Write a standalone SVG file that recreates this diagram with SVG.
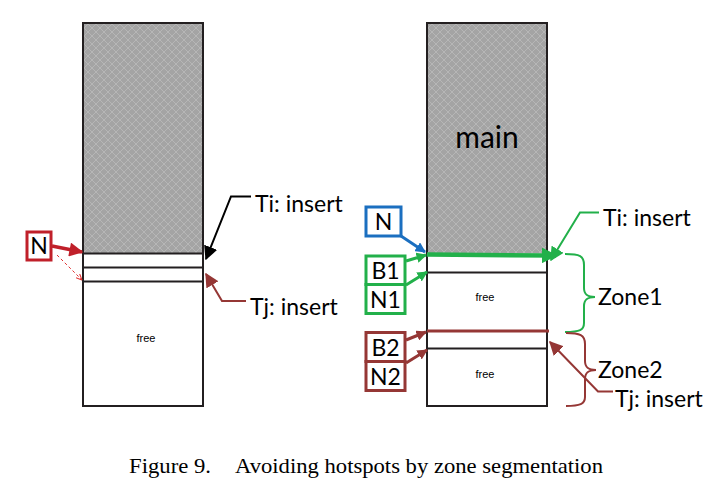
<svg xmlns="http://www.w3.org/2000/svg" width="725" height="491" viewBox="0 0 725 491">
<style>
.lbl{font-family:Lato,"Open Sans","Liberation Sans",sans-serif;font-size:23px;fill:#000}
.free{font-family:"Liberation Sans",sans-serif;font-size:11px;fill:#000}
.col{fill:#fff;stroke:#231f20;stroke-width:2}
.div{stroke:#231f20;stroke-width:2}
.cap{font-family:"Liberation Serif",serif;font-size:21px;fill:#000}
</style>
<defs>
<pattern id="hatch" width="8" height="8" patternUnits="userSpaceOnUse">
<rect width="8" height="8" fill="#a4a4a4"/>
<path d="M0,0 L8,8 M8,0 L0,8" stroke="#b6b6b6" stroke-width="1"/>
</pattern>
<marker id="ahR" viewBox="0 0 10 10" refX="9" refY="5" markerWidth="4.5" markerHeight="4" orient="auto"><path d="M0,0 L10,5 L0,10 z" fill="#c0202a"/></marker>
<marker id="ahRo" viewBox="0 0 10 10" refX="9" refY="5" markerWidth="7" markerHeight="7" orient="auto"><path d="M0,1 L9,5 L0,9" fill="none" stroke="#e03030" stroke-width="1.5"/></marker>
<marker id="ahK" viewBox="0 0 10 10" refX="9" refY="5" markerWidth="7" markerHeight="7" orient="auto"><path d="M0,0 L10,5 L0,10 z" fill="#000"/></marker>
<marker id="ahB" viewBox="0 0 10 10" refX="9" refY="5" markerWidth="7" markerHeight="7" orient="auto"><path d="M0,0 L10,5 L0,10 z" fill="#953735"/></marker>
<marker id="ahG" viewBox="0 0 10 10" refX="9" refY="5" markerWidth="3.5" markerHeight="3.5" orient="auto"><path d="M0,0 L10,5 L0,10 z" fill="#22b04a"/></marker>
<marker id="ahGs" viewBox="0 0 10 10" refX="9" refY="5" markerWidth="7" markerHeight="7" orient="auto"><path d="M0,0 L10,5 L0,10 z" fill="#22b04a"/></marker>
<marker id="ahBl" viewBox="0 0 10 10" refX="9" refY="5" markerWidth="3.5" markerHeight="3.5" orient="auto"><path d="M0,0 L10,5 L0,10 z" fill="#1b6fc0"/></marker>
<marker id="ahBr" viewBox="0 0 10 10" refX="9" refY="5" markerWidth="3.5" markerHeight="3.5" orient="auto"><path d="M0,0 L10,5 L0,10 z" fill="#953735"/></marker>
</defs>

<!-- Left column -->
<g id="left-column">
<rect class="col" x="83" y="23" width="120" height="383"/>
<rect x="84" y="24" width="118" height="229" fill="url(#hatch)"/>
<line class="div" x1="83" y1="253.5" x2="203" y2="253.5"/>
<line class="div" x1="83" y1="267.5" x2="203" y2="267.5"/>
<line class="div" x1="83" y1="281.5" x2="203" y2="281.5"/>
<text class="free" x="146" y="342" text-anchor="middle">free</text>
</g>
<g id="left-N">
<rect x="27" y="232" width="24" height="28" fill="#fff" stroke="#c0202a" stroke-width="3"/>
<text class="lbl" x="39" y="254" text-anchor="middle">N</text>
</g>
<g id="left-Ti-label"><text class="lbl" x="255" y="212">Ti: insert</text></g>
<g id="left-Tj-label"><text class="lbl" x="250" y="315">Tj: insert</text></g>

<!-- Right column -->
<g id="right-column">
<rect class="col" x="427" y="23" width="120" height="383"/>
<rect x="428" y="24" width="118" height="229" fill="url(#hatch)"/>
<line class="div" x1="427" y1="272.5" x2="547" y2="272.5"/>
<line class="div" x1="427" y1="348.5" x2="547" y2="348.5"/>
<text x="487" y="148" text-anchor="middle" style="font-family:Lato,'Open Sans','Liberation Sans',sans-serif;font-size:30px">main</text>
<text class="free" x="485" y="301" text-anchor="middle">free</text>
<text class="free" x="485" y="378" text-anchor="middle">free</text>
</g>
<g id="right-N">
<rect x="366" y="207" width="35" height="29" fill="#fff" stroke="#1b6fc0" stroke-width="3"/>
<text class="lbl" x="383.5" y="230" text-anchor="middle">N</text>
</g>
<g id="B1">
<rect x="366" y="256" width="39" height="28.5" fill="#fff" stroke="#22b04a" stroke-width="3"/>
<text class="lbl" x="385.5" y="279" text-anchor="middle">B1</text>
</g>
<g id="N1">
<rect x="366" y="284.5" width="39" height="29" fill="#fff" stroke="#22b04a" stroke-width="3"/>
<text class="lbl" x="385.5" y="308" text-anchor="middle">N1</text>
</g>
<g id="B2">
<rect x="366" y="332.5" width="39" height="29" fill="#fff" stroke="#953735" stroke-width="3"/>
<text class="lbl" x="385.5" y="356" text-anchor="middle">B2</text>
</g>
<g id="N2">
<rect x="366" y="361.5" width="39" height="29" fill="#fff" stroke="#953735" stroke-width="3"/>
<text class="lbl" x="385.5" y="385" text-anchor="middle">N2</text>
</g>
<g id="right-Ti-label"><text class="lbl" x="603" y="226">Ti: insert</text></g>
<g id="Zone1-label"><text class="lbl" x="598" y="305">Zone1</text></g>
<g id="Zone2-label"><text class="lbl" x="598" y="378">Zone2</text></g>
<g id="right-Tj-label"><text class="lbl" x="615" y="407">Tj: insert</text></g>

<!-- Connectors -->
<g id="connectors" fill="none">
<line x1="52" y1="246" x2="82" y2="252" stroke="#c0202a" stroke-width="3.5" marker-end="url(#ahR)"/>
<line x1="57" y1="255" x2="82" y2="280" stroke="#e03030" stroke-width="1" stroke-dasharray="3,2.5" marker-end="url(#ahRo)"/>
<polyline points="251,196.5 231,196.5 206,259" stroke="#000" stroke-width="2" marker-end="url(#ahK)"/>
<polyline points="246,301 222,301 206,274" stroke="#953735" stroke-width="2" marker-end="url(#ahB)"/>

<line x1="401" y1="236" x2="425" y2="252" stroke="#1b6fc0" stroke-width="3" marker-end="url(#ahBl)"/>
<line x1="406" y1="261" x2="426" y2="255" stroke="#22b04a" stroke-width="3" marker-end="url(#ahG)"/>
<line x1="406" y1="285" x2="427" y2="272" stroke="#22b04a" stroke-width="3" marker-end="url(#ahG)"/>
<line x1="427" y1="254.5" x2="556" y2="255.5" stroke="#22b04a" stroke-width="4.5" marker-end="url(#ahG)"/>
<polyline points="599,212.5 580,212.5 551,260" stroke="#22b04a" stroke-width="2" marker-end="url(#ahGs)"/>

<line x1="406" y1="340" x2="426" y2="332" stroke="#953735" stroke-width="3" marker-end="url(#ahBr)"/>
<line x1="406" y1="363" x2="427" y2="350" stroke="#953735" stroke-width="3" marker-end="url(#ahBr)"/>
<line x1="427" y1="331" x2="549" y2="331" stroke="#953735" stroke-width="3"/>
<polyline points="613,391.5 598,391.5 550,342" stroke="#953735" stroke-width="2" marker-end="url(#ahB)"/>

<path d="M565,254 C580,254 584,256 584,265 L584,288 C584,295 588,297 595,297 C588,297 584,299 584,306 L584,323 C584,330 580,332 565,332" stroke="#22b04a" stroke-width="2"/>
<path d="M566,333 C580,333 585,335 585,344 L585,361 C585,368 589,370 596,370 C589,370 585,372 585,379 L585,397 C585,404 580,406 566,406" stroke="#953735" stroke-width="2"/>
</g>

<g id="caption"><text class="cap" x="129" y="473" textLength="82" lengthAdjust="spacingAndGlyphs">Figure 9.</text><text class="cap" x="235" y="473" textLength="368" lengthAdjust="spacingAndGlyphs">Avoiding hotspots by zone segmentation</text></g>
</svg>
